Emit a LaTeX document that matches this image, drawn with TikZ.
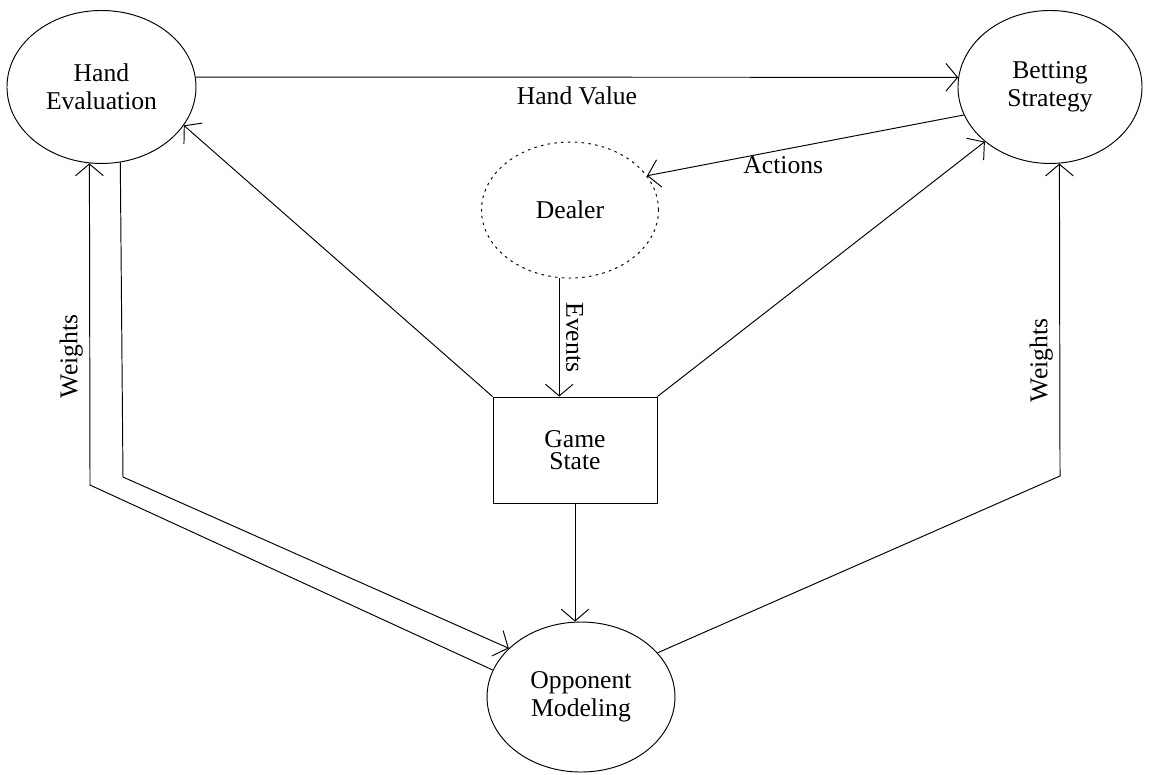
\documentclass[tikz,border=0pt]{standalone}
\usepackage{fontspec}
\setmainfont{Liberation Serif}
\usepackage{tikz}
\usetikzlibrary{arrows.meta,positioning,shapes.geometric}

\begin{document}
\begin{tikzpicture}[
  font=\fontsize{12}{13}\selectfont,
  line width=0.45pt,
  proc/.style={draw, ellipse, align=center, inner sep=0pt},
  box/.style={draw, rectangle, align=center, inner sep=0pt,
    minimum width=2.700cm, minimum height=1.745cm},
  arr/.style={-{Straight Barb[length=5.5pt,width=13pt]}},
  lbl/.style={inner sep=3pt}
]
\useasboundingbox (0,0) rectangle (19.017,-12.744);

\node[proc, minimum width=3.112cm, minimum height=2.519cm] (hand) at (1.671,-1.432) {Hand\\Evaluation};
\node[proc, minimum width=3.030cm, minimum height=2.519cm] (bet) at (17.288,-1.432) {Betting\\Strategy};
\node[proc, dash pattern=on 1.2pt off 2pt, minimum width=2.914cm, minimum height=2.239cm] (dealer) at (9.385,-3.458) {Dealer};
\node[box] (game) at (9.467,-7.409) {Game\\[-2.5pt]State};
\node[proc, minimum width=3.095cm, minimum height=2.470cm] (opp) at (9.566,-11.476) {Opponent\\Modeling};

\coordinate (wl) at (1.482,-7.986);
\coordinate (hl) at (2.025,-7.854);
\coordinate (wr) at (17.453,-7.837);

\draw[arr] (hand.6) -- node[lbl, midway, below=1pt] {Hand Value} (bet.174);
\draw[arr] (bet.198) -- node[lbl, pos=0.57, below] {Actions} (dealer.24);
\draw[arr] (dealer.261) -- node[lbl, midway, rotate=-90, anchor=south] {Events} (dealer.261 |- game.north);
\draw[arr] (game.north west) -- (hand.-25);
\draw[arr] (game.north east) -- (bet.220);
\draw[arr] (game.south) -- (game.south |- opp.north);
\draw[arr] (opp.163) -- (wl) -- node[lbl, pos=0.4, rotate=90, anchor=south] {Weights} (hand.261);
\draw[arr] (hand.284) -- (hl) -- (opp.146);
\draw[arr] (opp.30) -- (wr) -- node[lbl, pos=0.37, rotate=90, anchor=south] {Weights} (bet.277);
\end{tikzpicture}
\end{document}
